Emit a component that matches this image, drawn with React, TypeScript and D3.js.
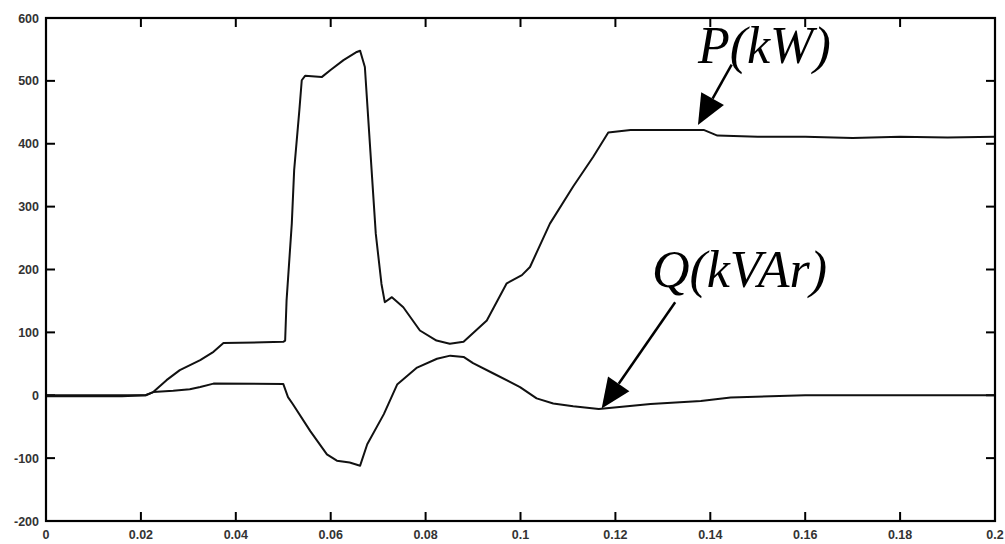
import React from "react";
import * as d3 from "d3";

const width = 1005;
const height = 544;
const margin = { top: 18, right: 10, bottom: 23, left: 46 };

// P(kW) trace
const pTime = [
  0, 0.016, 0.021, 0.0226, 0.0254, 0.0282, 0.0325, 0.0353, 0.0374, 0.05,
  0.0504, 0.0507, 0.0518, 0.0523, 0.0534, 0.0539, 0.0546, 0.0581, 0.0599,
  0.0627, 0.0655, 0.0662, 0.0672, 0.0683, 0.0695, 0.0707, 0.0714, 0.0729,
  0.0753, 0.0788, 0.0823, 0.0851, 0.088, 0.0929, 0.0971, 0.1003, 0.102,
  0.1062, 0.1111, 0.1153, 0.1185, 0.1232, 0.1386, 0.1415, 0.15, 0.16, 0.17,
  0.18, 0.19, 0.2
];
const pValues = [
  0, 0, 0, 5, 24, 40, 56, 69, 83, 85,
  87, 151, 273, 358, 454, 501, 508, 506, 517,
  533, 546, 548, 522, 395, 257, 177, 148, 156,
  140, 103, 87, 82, 85, 119, 178, 191, 204,
  273, 332, 379, 418, 422, 422, 413, 411, 411, 409,
  411, 410, 411
];

// Q(kVAr) trace
const qTime = [
  0, 0.016, 0.021, 0.0226, 0.0268, 0.0303, 0.0325, 0.0353, 0.05, 0.051,
  0.052, 0.0557, 0.0592, 0.0613, 0.064, 0.0662, 0.0677, 0.0712, 0.074,
  0.0782, 0.0824, 0.0852, 0.088, 0.09, 0.0942, 0.0999, 0.1034, 0.1069,
  0.1111, 0.1165, 0.1274, 0.138, 0.1443, 0.16, 0.2
];
const qValues = [
  -1.5, -1.5, 0, 5, 7, 9.5, 13, 18.5, 18, -3,
  -14, -57, -94, -104, -107, -112, -78, -30, 17,
  44, 58, 63, 61, 51, 35, 13, -5, -13,
  -17.5, -22, -14, -9, -3.5, 0, 0
];

const xTicks = [0, 0.02, 0.04, 0.06, 0.08, 0.1, 0.12, 0.14, 0.16, 0.18, 0.2];
const yTicks = [-200, -100, 0, 100, 200, 300, 400, 500, 600];

// annotations in data units: text position, arrow start and tip
const labels = [
  { text: "P(kW)", x: 0.1374, y: 528, from: [0.1445, 526], to: [0.1374, 430] },
  { text: "Q(kVAr)", x: 0.1277, y: 172, from: [0.1326, 148], to: [0.1171, -21] }
];

const x = d3.scaleLinear().domain([0, 0.2]).range([margin.left, width - margin.right]);
const y = d3.scaleLinear().domain([-200, 600]).range([height - margin.bottom, margin.top]);

function tracePath(ts: number[], vs: number[]) {
  return d3
    .line<number>()
    .x(i => x(ts[i]))
    .y(i => y(vs[i]))
    .curve(d3.curveLinear)(d3.range(ts.length));
}

function Arrow({ from, to }: { from: number[]; to: number[] }) {
  const x1 = x(from[0]);
  const y1 = y(from[1]);
  const x2 = x(to[0]);
  const y2 = y(to[1]);
  const ang = Math.atan2(y2 - y1, x2 - x1);
  const len = 30;
  const half = 13;
  const bx = x2 - len * Math.cos(ang);
  const by = y2 - len * Math.sin(ang);
  const px = -Math.sin(ang) * half;
  const py = Math.cos(ang) * half;
  return (
    <g>
      <line x1={x1} y1={y1} x2={bx} y2={by} stroke="#000" strokeWidth={2.5} />
      <polygon
        points={`${x2},${y2} ${bx + px},${by + py} ${bx - px},${by - py}`}
        fill="#000"
      />
    </g>
  );
}

export default function App() {
  const x0 = margin.left;
  const x1 = width - margin.right;
  const y0 = margin.top;
  const y1 = height - margin.bottom;
  const tick = 9;
  const fmtX = (d: number) => (d === 0 ? "0" : String(+d.toFixed(2)));
  return (
    <svg
      width={width}
      height={height}
      style={{ position: "absolute", left: 0, top: 0, background: "#fff" }}
    >
      <rect x={0} y={0} width={width} height={height} fill="#fff" />
      <g stroke="#000" strokeWidth={2}>
        {xTicks.slice(1, -1).map(t => (
          <g key={"xt" + t}>
            <line x1={x(t)} x2={x(t)} y1={y1} y2={y1 - tick} />
            <line x1={x(t)} x2={x(t)} y1={y0} y2={y0 + tick} />
          </g>
        ))}
        {yTicks.slice(1, -1).map(t => (
          <g key={"yt" + t}>
            <line x1={x0} x2={x0 + tick} y1={y(t)} y2={y(t)} />
            <line x1={x1} x2={x1 - tick} y1={y(t)} y2={y(t)} />
          </g>
        ))}
      </g>
      <g fill="none" stroke="#111" strokeWidth={2} strokeLinejoin="round">
        <path d={tracePath(pTime, pValues) || ""} />
        <path d={tracePath(qTime, qValues) || ""} />
      </g>
      <rect
        x={x0}
        y={y0}
        width={x1 - x0}
        height={y1 - y0}
        fill="none"
        stroke="#000"
        strokeWidth={2.2}
      />
      <g
        fontFamily="Arial, 'Liberation Sans', sans-serif"
        fontSize={12.5}
        fontWeight="bold"
        fill="#333"
      >
        {xTicks.map(t => (
          <text key={"xl" + t} x={x(t)} y={y1 + 18} textAnchor="middle">
            {fmtX(t)}
          </text>
        ))}
        {yTicks.map(t => (
          <text key={"yl" + t} x={x0 - 7} y={y(t) + 4.5} textAnchor="end">
            {t}
          </text>
        ))}
      </g>
      {labels.map(l => (
        <g key={l.text}>
          <text
            x={x(l.x)}
            y={y(l.y)}
            fontFamily="'Liberation Serif', 'Times New Roman', serif"
            fontStyle="italic"
            fontSize={52}
            fill="#000"
          >
            {l.text}
          </text>
          <Arrow from={l.from} to={l.to} />
        </g>
      ))}
    </svg>
  );
}
